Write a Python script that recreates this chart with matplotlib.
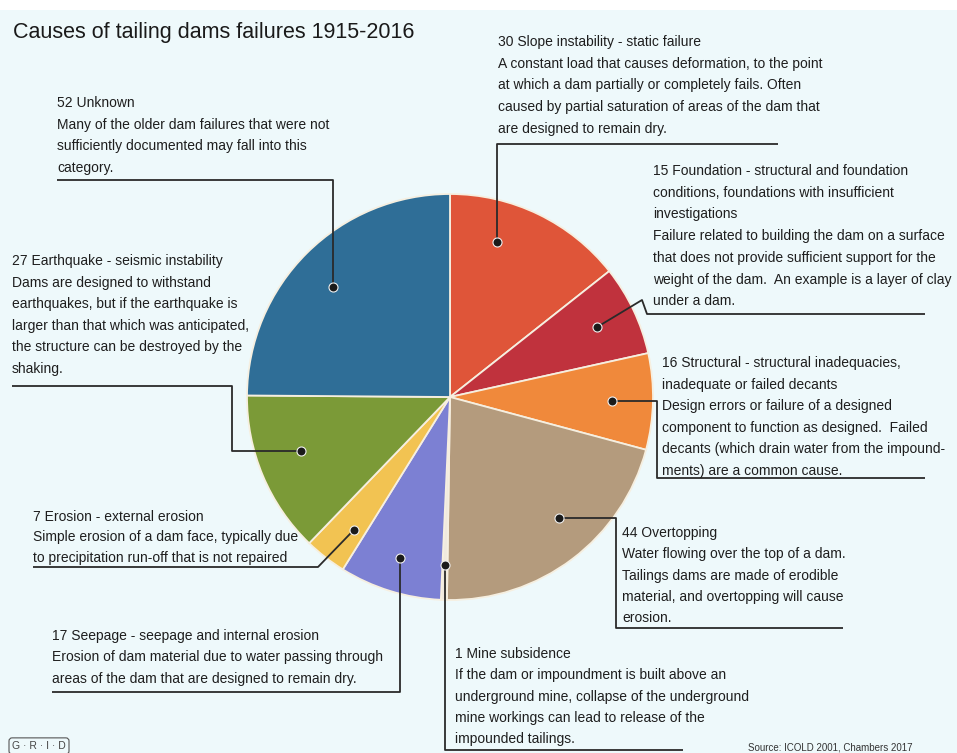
import numpy as np
import matplotlib
matplotlib.use("Agg")
import matplotlib.pyplot as plt
from matplotlib import font_manager
from matplotlib.patches import Rectangle

# ---------------- data ----------------
counts = [30, 15, 16, 44, 1, 17, 7, 27, 52]
headings = [
    ["Slope instability - static failure"],
    ["Foundation - structural and foundation",
     "conditions, foundations with insufficient",
     "investigations"],
    ["Structural - structural inadequacies,",
     "inadequate or failed decants"],
    ["Overtopping"],
    ["Mine subsidence"],
    ["Seepage - seepage and internal erosion"],
    ["Erosion - external erosion"],
    ["Earthquake - seismic instability"],
    ["Unknown"],
]
descriptions = [
    ["A constant load that causes deformation, to the point",
     "at which a dam partially or completely fails. Often",
     "caused by partial saturation of areas of the dam that",
     "are designed to remain dry."],
    ["Failure related to building the dam on a surface",
     "that does not provide sufficient support for the",
     "weight of the dam.  An example is a layer of clay",
     "under a dam."],
    ["Design errors or failure of a designed",
     "component to function as designed.  Failed",
     "decants (which drain water from the impound-",
     "ments) are a common cause."],
    ["Water flowing over the top of a dam.",
     "Tailings dams are made of erodible",
     "material, and overtopping will cause",
     "erosion."],
    ["If the dam or impoundment is built above an",
     "underground mine, collapse of the underground",
     "mine workings can lead to release of the",
     "impounded tailings."],
    ["Erosion of dam material due to water passing through",
     "areas of the dam that are designed to remain dry."],
    ["Simple erosion of a dam face, typically due",
     "to precipitation run-off that is not repaired"],
    ["Dams are designed to withstand",
     "earthquakes, but if the earthquake is",
     "larger than that which was anticipated,",
     "the structure can be destroyed by the",
     "shaking."],
    ["Many of the older dam failures that were not",
     "sufficiently documented may fall into this",
     "category."],
]
title = "Causes of tailing dams failures 1915-2016"
source = "Source: ICOLD 2001, Chambers 2017"
logo = "G \u00b7 R \u00b7 I \u00b7 D"

# ---------------- style / layout ----------------
colors = ["#df5539", "#c0323d", "#f0893b", "#b49b7d", "#efe9df",
          "#7c80d3", "#f2c352", "#7b9a37", "#2f6e97"]
BG = "#eef9fb"
W, H = 957, 753

names = {f.name for f in font_manager.fontManager.ttflist}
if "Liberation Sans Narrow" in names:
    FONT = ["Liberation Sans Narrow", "DejaVu Sans"]
    BODY, TITLE = 11.8, 19.5
else:
    FONT = ["Liberation Sans", "DejaVu Sans"]
    BODY, TITLE = 10.0, 15.5
plt.rcParams["font.family"] = FONT

# text block layout: (x, first baseline y, line spacing) in image pixels
blocks = [
    (498, 46, 21.7),
    (653, 175, 21.7),
    (662, 367, 21.5),
    (622, 537, 21.3),
    (455, 658, 21.3),
    (52, 640, 21.5),
    (33, 521, 20.5),
    (12, 265, 21.6),
    (57, 107, 21.7),
]
# dot placement: fraction of radius, angle offset (deg) from wedge middle
dot_pos = [(0.80, 9), (0.80, 0), (0.80, 0), (0.80, 5), (0.83, 0),
           (0.83, 0), (0.81, 2), (0.78, -3), (0.79, 2)]
# leader vertices after the dot; "d" -> reuse the dot coordinate
leaders = [
    [("d", 144), (778, 144)],
    [(642, 300), (647, 314), (925, 314)],
    [(657, "d"), (657, 478), (925, 478)],
    [(616, "d"), (616, 628), (843, 628)],
    [("d", 750), (683, 750)],
    [("d", 692), (52, 692)],
    [(318, 567), (33, 567)],
    [(232, "d"), (232, 386), (12, 386)],
    [("d", 180), (57, 180)],
]

CX, CY, R = 450, 397, 203


def Y(y):
    return H - y


fig = plt.figure(figsize=(W / 100, H / 100), dpi=100, facecolor=BG)
ax = fig.add_axes([0, 0, 1, 1])
ax.set_facecolor(BG)

wedges, _ = ax.pie(counts, colors=colors, startangle=90, counterclock=False,
                   center=(CX, Y(CY)), radius=R,
                   wedgeprops=dict(edgecolor="#f6efe0", linewidth=1.3))
ax.set_xlim(0, W)
ax.set_ylim(0, H)
ax.set_aspect("auto")
ax.axis("off")
ax.add_patch(Rectangle((0, Y(10)), W, 10, facecolor="white", edgecolor="none",
                       zorder=0.5))

TXT = "#1e1e1e"
for i, w in enumerate(wedges):
    frac, off = dot_pos[i]
    mid = np.deg2rad((w.theta1 + w.theta2) / 2 + off)
    dx = CX + frac * R * np.cos(mid)
    dy = CY - frac * R * np.sin(mid)
    pts = [(dx, dy)]
    for (px, py) in leaders[i]:
        px = dx if px == "d" else px
        py = dy if py == "d" else py
        pts.append((px, py))
    xs = [p[0] for p in pts]
    ys = [Y(p[1]) for p in pts]
    ax.plot(xs, ys, color="#2a2a2a", lw=1.3, zorder=3, solid_capstyle="butt")
    ax.plot([dx], [Y(dy)], "o", ms=6.5, color="#1a1a1a", mec="#eeeeee",
            mew=0.8, zorder=4)

    x0, y0, sp = blocks[i]
    head = list(headings[i])
    head[0] = f"{counts[i]} {head[0]}"
    lines = head + descriptions[i]
    for k, line in enumerate(lines):
        ax.text(x0, Y(y0 + k * sp), line, fontsize=BODY, color=TXT,
                ha="left", va="baseline", zorder=5)

ax.text(13, Y(38), title, fontsize=TITLE, color="#1a1a1a", ha="left",
        va="baseline", zorder=5)
ax.text(912, Y(748), source, fontsize=7, color="#333333", ha="right",
        va="center", zorder=5)
ax.text(39, Y(746), logo, fontsize=7.5, color="#444444", ha="center",
        va="center", zorder=5,
        bbox=dict(boxstyle="round,pad=0.3", fc="none", ec="#555555", lw=0.8))

fig.savefig("out.png", dpi=100, facecolor=BG)
